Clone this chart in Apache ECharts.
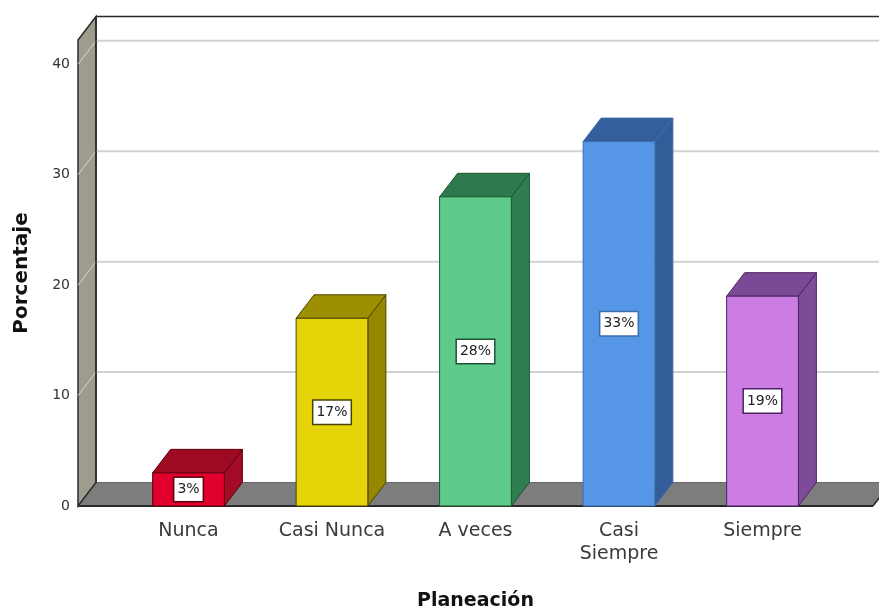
<!DOCTYPE html>
<html>
<head>
<meta charset="utf-8">
<script src="https://cdn.jsdelivr.net/npm/echarts@6/dist/echarts.min.js"></script>
<style>
  html, body { margin: 0; padding: 0; background: #ffffff; }
  #chart { width: 879px; height: 612px; }
</style>
</head>
<body>
<div id="chart"></div>
<script>
// Planeación: percentage of answers per category
const categories = ['Nunca', 'Casi Nunca', 'A veces', 'Casi\nSiempre', 'Siempre'];
const percentages = [3, 17, 28, 33, 19];
const yTicks = [0, 10, 20, 30, 40];

// Face colours for each bar (front, top, right side, edges)
const frontColors = ['#e1002b', '#e5d508', '#5ecb8a', '#5596e6', '#cc7de3'];
const topColors   = ['#9e0a22', '#9c8f00', '#2e7a4c', '#345f9c', '#7a4a96'];
const sideColors  = ['#a30b26', '#958800', '#307e50', '#335d98', '#7d4c99'];
const edgeColors  = ['#5a0012', '#4a4300', '#1e5434', '#3d6eae', '#4a2062'];

// Axis extents and the fake-3D depth offset (pixels)
const X_MIN = -0.77, X_MAX = 4.77, Y_MAX = 42.2;
const DEPTH = [18, -23.5];
const BAR_HALF = 0.25;
const FONT = '"DejaVu Sans", "Liberation Sans", Arial, sans-serif';

function back(p) { return [p[0] + DEPTH[0], p[1] + DEPTH[1]]; }

const chart = echarts.init(document.getElementById('chart'), null, { renderer: 'canvas' });

chart.setOption({
  backgroundColor: '#ffffff',
  animation: false,
  grid: { left: 78, right: 6, top: 40, bottom: 106, outerBoundsMode: 'none', containLabel: false },
  xAxis: {
    type: 'value', min: X_MIN, max: X_MAX,
    axisLine: { show: false }, axisTick: { show: false },
    axisLabel: { show: false }, splitLine: { show: false },
    name: 'Planeación', nameLocation: 'middle', nameGap: 86,
    nameTextStyle: { fontFamily: FONT, fontSize: 19, fontWeight: 'bold', color: '#111' }
  },
  yAxis: {
    type: 'value', min: 0, max: Y_MAX, interval: 10,
    axisLine: { show: false }, axisTick: { show: false }, splitLine: { show: false },
    axisLabel: { margin: 8, fontFamily: FONT, fontSize: 14, color: '#333', showMaxLabel: false },
    name: 'Porcentaje', nameLocation: 'middle', nameGap: 46, nameRotate: 90,
    nameTextStyle: { fontFamily: FONT, fontSize: 20, fontWeight: 'bold', color: '#111' }
  },
  series: [
    {
      // side wall, floor and back wall frame
      type: 'custom', z: 1, clip: false, silent: true,
      data: [[0, 0]],
      renderItem: function (params, api) {
        const fl = api.coord([X_MIN, 0]);
        const fr = api.coord([X_MAX, 0]);
        const tl = api.coord([X_MIN, Y_MAX]);
        const tr = api.coord([X_MAX, Y_MAX]);
        return {
          type: 'group',
          children: [
            { type: 'polygon', shape: { points: [fl, fr, back(fr), back(fl)] },
              style: { fill: '#7d7d7d', stroke: '#6a6a6a', lineWidth: 1 } },
            { type: 'polygon', shape: { points: [fl, tl, back(tl), back(fl)] },
              style: { fill: '#9e9c8c', stroke: '#2a2a2a', lineWidth: 1.5 } },
            { type: 'line', shape: { x1: back(tl)[0], y1: back(tl)[1], x2: back(tr)[0], y2: back(tr)[1] },
              style: { stroke: '#2a2a2a', lineWidth: 1.5 } },
            { type: 'line', shape: { x1: fl[0], y1: fl[1], x2: fr[0], y2: fr[1] },
              style: { stroke: '#2a2a2a', lineWidth: 2 } },
            { type: 'line', shape: { x1: fr[0], y1: fr[1], x2: back(fr)[0], y2: back(fr)[1] },
              style: { stroke: '#2a2a2a', lineWidth: 1.5 } }
          ]
        };
      }
    },
    {
      // grid lines on the side wall and the back wall
      type: 'custom', z: 2, clip: false, silent: true,
      data: yTicks.filter(function (t) { return t > 0; }).map(function (t) { return [0, t]; }),
      renderItem: function (params, api) {
        const t = api.value(1);
        const a = api.coord([X_MIN, t]);
        const b = back(a);
        const c = back(api.coord([X_MAX, t]));
        return {
          type: 'group',
          children: [
            { type: 'line', shape: { x1: a[0], y1: a[1], x2: b[0], y2: b[1] },
              style: { stroke: '#d6d6cc', lineWidth: 1 } },
            { type: 'line', shape: { x1: b[0], y1: b[1], x2: c[0], y2: c[1] },
              style: { stroke: '#d2d2d2', lineWidth: 2 } }
          ]
        };
      }
    },
    {
      // the left wall's back edge, drawn over the grid lines
      type: 'custom', z: 2, clip: false, silent: true,
      data: [[0, 0]],
      renderItem: function (params, api) {
        const b0 = back(api.coord([X_MIN, 0]));
        const b1 = back(api.coord([X_MIN, Y_MAX]));
        return { type: 'line', shape: { x1: b0[0], y1: b0[1], x2: b1[0], y2: b1[1] },
                 style: { stroke: '#2a2a2a', lineWidth: 1.5 } };
      }
    },
    {
      // 3D bars with their percentage labels
      type: 'custom', z: 3, clip: false,
      data: percentages.map(function (v, i) { return [i, v]; }),
      renderItem: function (params, api) {
        const i = params.dataIndex;
        const x = api.value(0), v = api.value(1);
        const bl = api.coord([x - BAR_HALF, 0]);
        const tr = api.coord([x + BAR_HALF, v]);
        const tl = [bl[0], tr[1]];
        const br = [tr[0], bl[1]];
        const edge = edgeColors[i];
        return {
          type: 'group',
          children: [
            { type: 'polygon', shape: { points: [br, tr, back(tr), back(br)] },
              style: { fill: sideColors[i], stroke: edge, lineWidth: 1 } },
            { type: 'polygon', shape: { points: [tl, tr, back(tr), back(tl)] },
              style: { fill: topColors[i], stroke: edge, lineWidth: 1 } },
            { type: 'rect', shape: { x: bl[0], y: tr[1], width: tr[0] - bl[0], height: bl[1] - tr[1] },
              style: { fill: frontColors[i], stroke: edge, lineWidth: 1 } },
            { type: 'text', z2: 10,
              style: {
                text: v + '%', x: (bl[0] + tr[0]) / 2, y: (bl[1] + tr[1]) / 2,
                align: 'center', verticalAlign: 'middle',
                fontFamily: FONT, fontSize: 14, fill: '#222',
                backgroundColor: '#ffffff', borderColor: edge, borderWidth: 1.5,
                padding: [5, 3, 4, 3]
              } }
          ]
        };
      }
    },
    {
      // category names under the floor
      type: 'custom', z: 4, clip: false, silent: true,
      data: categories.map(function (c, i) { return [i, 0]; }),
      renderItem: function (params, api) {
        const p = api.coord([api.value(0), 0]);
        return {
          type: 'text',
          style: {
            text: categories[params.dataIndex], x: p[0], y: p[1] + 14,
            align: 'center', verticalAlign: 'top',
            fontFamily: FONT, fontSize: 19, lineHeight: 23, fill: '#3a3a3a'
          }
        };
      }
    }
  ]
});
</script>
</body>
</html>
